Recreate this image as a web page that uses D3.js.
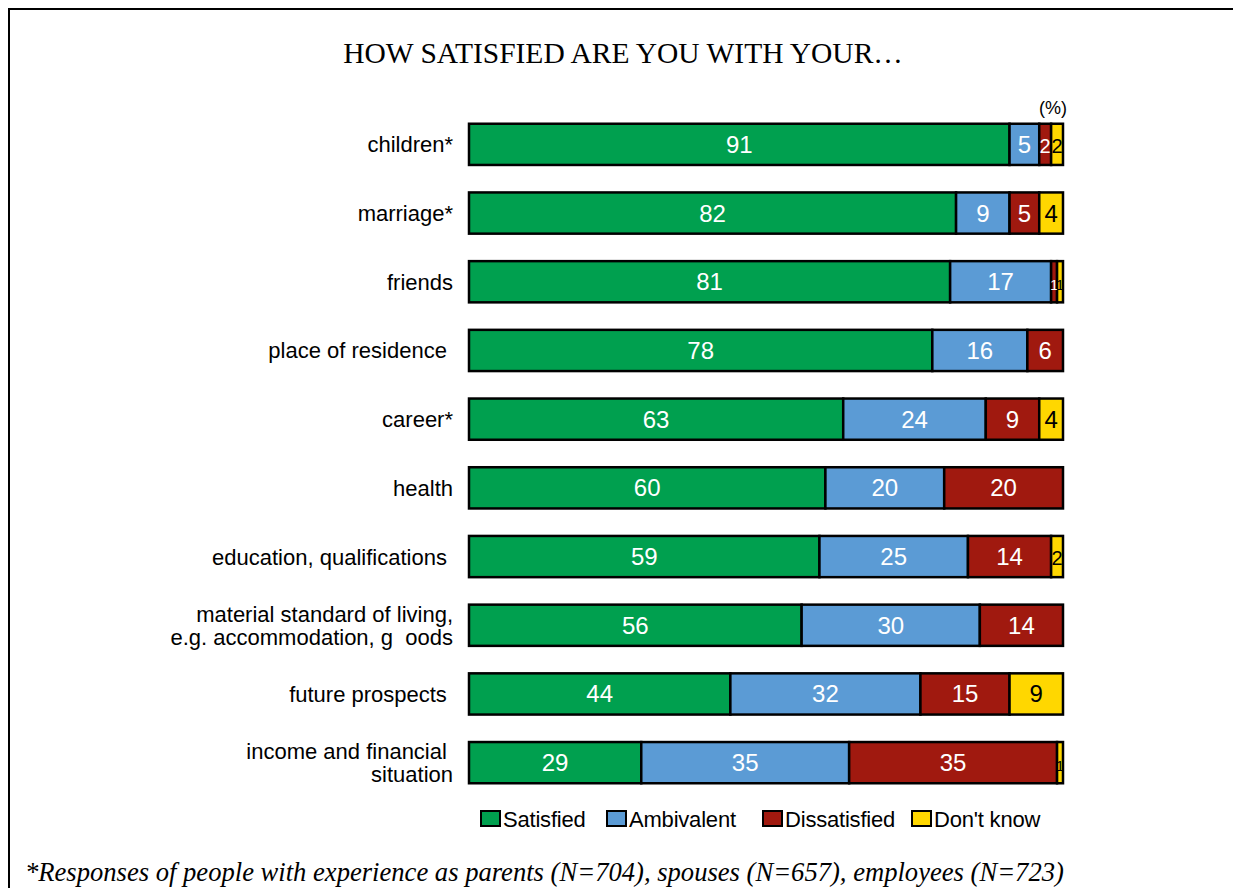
<!DOCTYPE html>
<html>
<head>
<meta charset="utf-8">
<script src="https://cdn.jsdelivr.net/npm/d3@7"></script>
<style>
  body { margin: 0; background: #fff; }
  svg { display: block; }
</style>
</head>
<body>
<svg id="chart" width="1233" height="888"></svg>
<script>
// Data
const categories = [
  ["children*"],
  ["marriage*"],
  ["friends"],
  ["place of residence "],
  ["career*"],
  ["health"],
  ["education, qualifications "],
  ["material standard of living,", "e.g. accommodation, g  oods"],
  ["future prospects "],
  ["income and financial ", "situation"]
];
const seriesNames = ["Satisfied", "Ambivalent", "Dissatisfied", "Don't know"];
const satisfied    = [91, 82, 81, 78, 63, 60, 59, 56, 44, 29];
const ambivalent   = [5, 9, 17, 16, 24, 20, 25, 30, 32, 35];
const dissatisfied = [2, 5, 1, 6, 9, 20, 14, 14, 15, 35];
const dontKnow     = [2, 4, 1, 0, 4, 0, 2, 0, 9, 1];
const colors = ["#00A04F", "#5B9BD5", "#A0190F", "#FFD700"];
const textColors = ["#fff", "#fff", "#fff", "#000"];

const svg = d3.select("#chart");

// Outer frame
svg.append("rect")
  .attr("x", 9).attr("y", 9)
  .attr("width", 1250).attr("height", 900)
  .attr("fill", "none")
  .attr("stroke", "#000")
  .attr("stroke-width", 2);

// Title
svg.append("text")
  .attr("x", 623).attr("y", 63)
  .attr("text-anchor", "middle")
  .style("font-family", "'Liberation Serif', 'Times New Roman', serif")
  .style("font-size", "29.5px")
  .text("HOW SATISFIED ARE YOU WITH YOUR…");

svg.append("text")
  .attr("x", 1053).attr("y", 114)
  .attr("text-anchor", "middle")
  .style("font-family", "'Liberation Sans', Arial, sans-serif")
  .style("font-size", "18px")
  .text("(%)");

// Scales
const x = d3.scaleLinear().domain([0, 100]).range([469, 1063]);
const y = d3.scaleBand()
  .domain(d3.range(categories.length))
  .range([110, 797])
  .paddingInner(0.4)
  .paddingOuter(0.2);

const rows = categories.map((c, i) => {
  const vals = [satisfied[i], ambivalent[i], dissatisfied[i], dontKnow[i]];
  let acc = 0;
  return vals.map((v, k) => {
    const seg = { row: i, k, v, x0: acc, x1: acc + v };
    acc += v;
    return seg;
  }).filter(s => s.v > 0);
});

const g = svg.append("g");

const rowG = g.selectAll("g.row")
  .data(rows)
  .join("g")
  .attr("class", "row")
  .attr("transform", (d, i) => `translate(0, ${ y(i) })`);

rowG.selectAll("rect")
  .data(d => d)
  .join("rect")
  .attr("x", d => x(d.x0))
  .attr("width", d => x(d.x1) - x(d.x0))
  .attr("height", y.bandwidth())
  .attr("fill", d => colors[d.k])
  .attr("stroke", "#000")
  .attr("stroke-width", 2.5);

// Small segments get a smaller number so neighbours overlap less
rowG.selectAll("text")
  .data(d => d)
  .join("text")
  .attr("x", d => (x(d.x0) + x(d.x1)) / 2)
  .attr("y", y.bandwidth() / 2 + 8.5)
  .attr("text-anchor", "middle")
  .attr("fill", d => textColors[d.k])
  .style("font-family", "'Liberation Sans', Arial, sans-serif")
  .style("font-size", d => d.v < 2 ? "15px" : d.v < 3 ? "20px" : "24px")
  .text(d => d.v);

// Category labels
const labelG = g.selectAll("text.cat")
  .data(categories)
  .join("text")
  .attr("class", "cat")
  .attr("text-anchor", "end")
  .style("font-family", "'Liberation Sans', Arial, sans-serif")
  .style("font-size", "22px")
  .style("white-space", "pre")
  .attr("fill", "#000");

labelG.selectAll("tspan")
  .data((d, i) => d.map((t, j) => ({ t, j, n: d.length, i })))
  .join("tspan")
  .attr("x", 453)
  .attr("y", d => y(d.i) + y.bandwidth() / 2 + 8 + (d.j - (d.n - 1) / 2) * 23)
  .text(d => d.t);

// Legend
const legendX = [481, 607, 763, 912];
const legend = svg.append("g")
  .selectAll("g")
  .data(seriesNames)
  .join("g")
  .attr("transform", (d, i) => `translate(${ legendX[i] }, 811)`);

legend.append("rect")
  .attr("width", 19).attr("height", 15)
  .attr("fill", (d, i) => colors[i])
  .attr("stroke", "#000")
  .attr("stroke-width", 2);

legend.append("text")
  .attr("x", 22).attr("y", 16)
  .style("font-family", "'Liberation Sans', Arial, sans-serif")
  .style("font-size", "22px")
  .style("letter-spacing", "-0.2px")
  .text(d => d);

// Footnote
svg.append("text")
  .attr("x", 25).attr("y", 881)
  .style("font-family", "'Liberation Serif', 'Times New Roman', serif")
  .style("font-style", "italic")
  .style("font-size", "26.6px")
  .text("*Responses of people with experience as parents (N=704), spouses (N=657), employees (N=723)");
</script>
</body>
</html>
